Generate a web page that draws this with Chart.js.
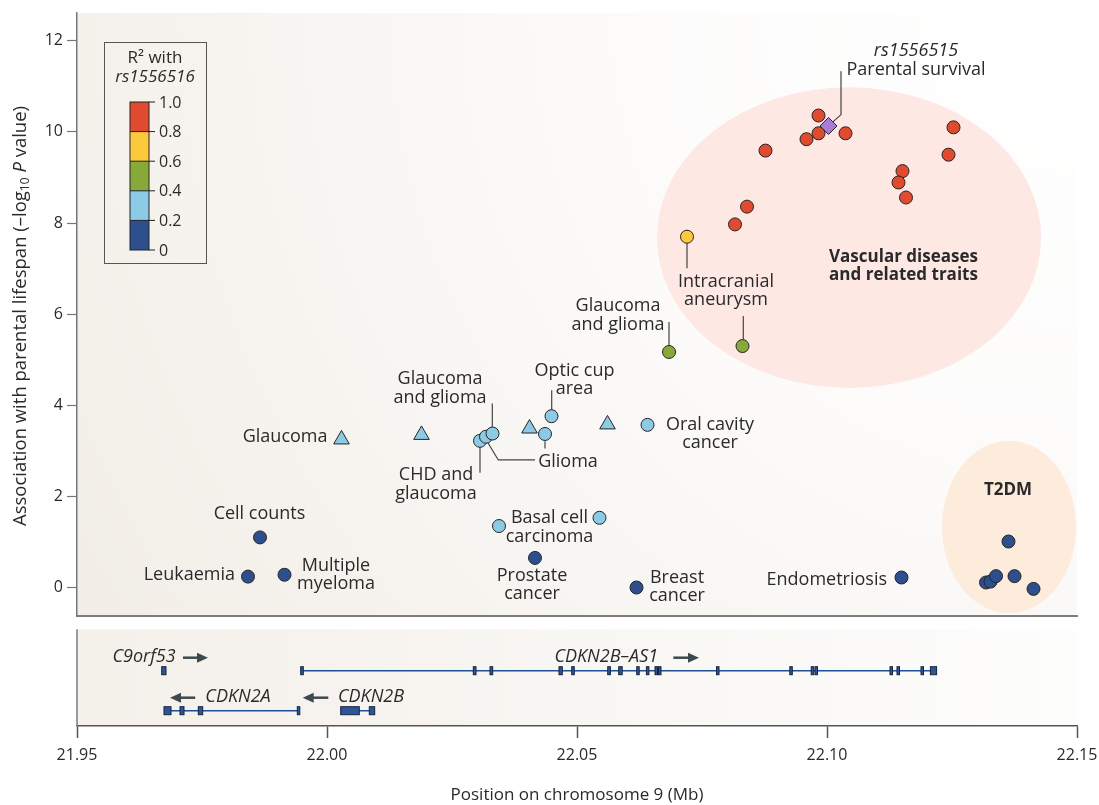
<!DOCTYPE html>
<html>
<head>
<meta charset="utf-8">
<script src="https://cdn.jsdelivr.net/npm/chart.js@4.4.0/dist/chart.umd.min.js"></script>
<style>
  html, body { margin: 0; padding: 0; background: #fff; }
  #wrap { width: 1099px; height: 805px; }
</style>
</head>
<body>
<div id="wrap"><canvas id="chart" width="1099" height="805"></canvas></div>
<script>
// ---- axis ticks ----
const xTicks = [21.95, 22.0, 22.05, 22.1, 22.15];
const yTicks = [0, 2, 4, 6, 8, 10, 12];

// ---- R2 colour key ----
const r2Ticks = ["1.0", "0.8", "0.6", "0.4", "0.2", "0"];
const r2Colors = ["#e04b30", "#fcc83c", "#86a93a", "#8dcae6", "#2d4f8e"];

// ---- SNP associations (position Mb, -log10 P) ----
const leadX = [22.1003];
const leadY = [10.13];
const redX = [22.0983, 22.0983, 22.0959, 22.1037, 22.0877, 22.1253, 22.1243, 22.1151, 22.1143, 22.1158, 22.0840, 22.0816];
const redY = [10.36, 9.97, 9.84, 9.97, 9.59, 10.10, 9.50, 9.14, 8.89, 8.56, 8.36, 7.97];
const yellowX = [22.0720];
const yellowY = [7.70];
const greenX = [22.0684, 22.0831];
const greenY = [5.17, 5.30];
const lightX = [22.0449, 22.0436, 22.0306, 22.0318, 22.0331, 22.0641, 22.0344, 22.0545];
const lightY = [3.76, 3.37, 3.22, 3.31, 3.38, 3.57, 1.35, 1.53];
const lightTriX = [22.0029, 22.0189, 22.0405, 22.0561];
const lightTriY = [3.25, 3.35, 3.49, 3.58];
const darkX = [21.9866, 21.9842, 21.9915, 22.0416, 22.0619, 22.1149, 22.1363, 22.1318, 22.1327, 22.1338, 22.1375, 22.1413];
const darkY = [1.10, 0.24, 0.28, 0.65, 0.00, 0.22, 1.01, 0.11, 0.13, 0.25, 0.25, -0.03];

// ---- genes (Mb) ----
const geneRows = { top: 5.53, bottom: 1.53 };
const as1Span = [21.99474, 22.12192];
const as1Exons = [[21.99474, 21.99526], [22.02926, 22.0298], [22.0326, 22.03314], [22.0464, 22.04706],
  [22.04894, 22.04946], [22.05614, 22.05668], [22.05834, 22.05904], [22.06194, 22.06236],
  [22.06388, 22.0643], [22.0656, 22.06594], [22.0663, 22.06664], [22.0779, 22.07826],
  [22.09256, 22.0929], [22.09684, 22.09726], [22.0976, 22.098], [22.1126, 22.11308],
  [22.114, 22.11446], [22.1188, 22.1193], [22.12068, 22.12192]];
const c9orf53Exons = [[21.96694, 21.9678]];
const cdkn2aSpan = [21.9674, 21.99434];
const cdkn2aExons = [[21.9674, 21.9688], [21.9706, 21.9714], [21.97426, 21.97514], [21.99406, 21.99446]];
const cdkn2bSpan = [22.00274, 22.00954];
const cdkn2bExons = [[22.00274, 22.00646], [22.00846, 22.00954]];

const geneLabels = [
  { text: "C9orf53", x: 21.9634, row: "top", arrow: [21.9712, 21.9762] },
  { text: "CDKN2B\u2013AS1", x: 22.05586, row: "top", arrow: [22.06926, 22.0744] },
  { text: "CDKN2A", x: 21.9822, row: "bottom", arrow: [21.97364, 21.9686] },
  { text: "CDKN2B", x: 22.0088, row: "bottom", arrow: [22.00026, 21.99514] },
];

// ---- annotations (data coordinates) ----
const notes = [
  { text: ["rs1556515"], x: 22.1178, y: 11.78, style: "italic" },
  { text: ["Parental survival"], x: 22.1178, y: 11.36 },
  { text: ["Intracranial", "aneurysm"], x: 22.0798, y: 6.71 },
  { text: ["Vascular diseases", "and related traits"], x: 22.1153, y: 7.26, style: "bold" },
  { text: ["Glaucoma", "and glioma"], x: 22.0582, y: 6.18 },
  { text: ["Optic cup", "area"], x: 22.0495, y: 4.76 },
  { text: ["Glaucoma", "and glioma"], x: 22.0226, y: 4.57 },
  { text: ["CHD and", "glaucoma"], x: 22.0218, y: 2.47 },
  { text: ["Glioma"], x: 22.0482, y: 2.76 },
  { text: ["Oral cavity", "cancer"], x: 22.0766, y: 3.57 },
  { text: ["Basal cell", "carcinoma"], x: 22.0445, y: 1.52 },
  { text: ["Prostate", "cancer"], x: 22.041, y: 0.26 },
  { text: ["Breast", "cancer"], x: 22.070, y: 0.22 },
  { text: ["Glaucoma"], x: 22.0001, y: 3.31, align: "right" },
  { text: ["Cell counts"], x: 21.9865, y: 1.61 },
  { text: ["Leukaemia"], x: 21.9816, y: 0.27, align: "right" },
  { text: ["Multiple", "myeloma"], x: 22.0018, y: 0.48 },
  { text: ["Endometriosis"], x: 22.112, y: 0.16, align: "right" },
  { text: ["T2DM"], x: 22.1362, y: 2.14, style: "bold" },
];

const leaders = [
  [[22.1007, 10.17], [22.1028, 10.38], [22.1028, 11.33]],
  [[22.0720, 7.56], [22.0720, 7.01]],
  [[22.08326, 5.96], [22.08326, 5.45]],
  [[22.0684, 5.83], [22.0684, 5.32]],
  [[22.04494, 4.33], [22.04494, 3.86]],
  [[22.03306, 4.04], [22.03306, 3.49]],
  [[22.0306, 3.09], [22.0306, 2.52]],
  [[22.0436, 3.21], [22.0436, 3.05]],
  [[22.03206, 3.20], [22.03426, 2.80], [22.0416, 2.80]],
];

const groups = [
  { cx: 22.1044, cy: 7.68, rx: 0.0384, ry: 3.30, fill: "#fde8e4" },
  { cx: 22.1364, cy: 1.33, rx: 0.0134, ry: 1.89, fill: "#fdebdc" },
];

const FONT = "'Open Sans', 'Noto Sans', sans-serif";
const INK = "#2a2a2a";
const pts = (xs, ys) => xs.map((x, i) => ({ x, y: ys[i] }));

function snpSet(xs, ys, color, style, radius) {
  return {
    data: pts(xs, ys),
    backgroundColor: color,
    borderColor: "#262626",
    borderWidth: 1,
    pointStyle: style || "circle",
    pointRadius: radius || 6.5,
    yAxisID: "y",
  };
}

function spanSet(span, row) {
  return {
    type: "line",
    data: [{ x: span[0], y: row }, { x: span[1], y: row }],
    borderColor: "#1f4f96",
    borderWidth: 1.5,
    pointRadius: 0,
    yAxisID: "yg",
  };
}

const decor = {
  id: "decor",
  beforeDraw(chart) {
    const { ctx, chartArea: a, scales } = chart;
    const y = scales.y, yg = scales.yg;
    ctx.save();
    // plot background
    let g = ctx.createRadialGradient(a.right, a.top, 40, a.right, a.top, 1150);
    g.addColorStop(0, "#ffffff");
    g.addColorStop(0.4, "#fcfbfa");
    g.addColorStop(1, "#f2eee7");
    ctx.fillStyle = g;
    ctx.fillRect(a.left, y.top, a.right - a.left, y.bottom - y.top);
    // gene panel background
    const pTop = yg.getPixelForValue(9.67);
    g = ctx.createLinearGradient(a.left, 0, a.right, 0);
    g.addColorStop(0, "#f4f0ea");
    g.addColorStop(1, "#fdfdfc");
    ctx.fillStyle = g;
    ctx.fillRect(a.left, pTop, a.right - a.left, yg.bottom - pTop);
    ctx.restore();
  },
  beforeDatasetsDraw(chart) {
    const { ctx, chartArea: a, scales } = chart;
    const x = scales.x, y = scales.y, yg = scales.yg;
    ctx.save();
    groups.forEach((e) => {
      const cx = x.getPixelForValue(e.cx), cy = y.getPixelForValue(e.cy);
      const rx = x.getPixelForValue(e.cx + e.rx) - cx;
      const ry = cy - y.getPixelForValue(e.cy + e.ry);
      ctx.fillStyle = e.fill;
      ctx.beginPath();
      ctx.ellipse(cx, cy, rx, ry, 0, 0, Math.PI * 2);
      ctx.fill();
    });
    // bottom frame of the main panel
    ctx.strokeStyle = "#7d7d7d";
    ctx.lineWidth = 2;
    ctx.beginPath();
    ctx.moveTo(a.left, y.bottom);
    ctx.lineTo(a.right + 1, y.bottom);
    ctx.stroke();
    // left frame of the gene panel
    ctx.lineWidth = 1.5;
    ctx.beginPath();
    ctx.moveTo(a.left, yg.getPixelForValue(9.67));
    ctx.lineTo(a.left, yg.bottom);
    ctx.stroke();
    // leader lines
    ctx.strokeStyle = "#444";
    ctx.lineWidth = 1.2;
    leaders.forEach((ln) => {
      ctx.beginPath();
      ln.forEach(([vx, vy], i) => {
        const px = x.getPixelForValue(vx), py = y.getPixelForValue(vy);
        i ? ctx.lineTo(px, py) : ctx.moveTo(px, py);
      });
      ctx.stroke();
    });
    ctx.restore();
  },
  afterDatasetsDraw(chart) {
    const { ctx, scales } = chart;
    const x = scales.x, y = scales.y, yg = scales.yg;
    ctx.save();
    // exons
    const exonH = 8;
    const drawExons = (list, row) => {
      const cy = yg.getPixelForValue(row);
      list.forEach(([s, e]) => {
        const x0 = x.getPixelForValue(s), x1 = x.getPixelForValue(e);
        ctx.fillStyle = "#2f5597";
        ctx.strokeStyle = "#16233f";
        ctx.lineWidth = 1;
        ctx.fillRect(x0, cy - exonH / 2, Math.max(x1 - x0, 2.5), exonH);
        ctx.strokeRect(x0, cy - exonH / 2, Math.max(x1 - x0, 2.5), exonH);
      });
    };
    drawExons(as1Exons, geneRows.top);
    drawExons(c9orf53Exons, geneRows.top);
    drawExons(cdkn2aExons, geneRows.bottom);
    drawExons(cdkn2bExons, geneRows.bottom);
    // gene names + strand arrows
    ctx.textBaseline = "middle";
    ctx.textAlign = "center";
    geneLabels.forEach((gl) => {
      const ly = yg.getPixelForValue(geneRows[gl.row] + 1.4);
      ctx.fillStyle = INK;
      ctx.font = "italic 18px " + FONT;
      ctx.fillText(gl.text, x.getPixelForValue(gl.x), ly);
      const a0 = x.getPixelForValue(gl.arrow[0]), a1 = x.getPixelForValue(gl.arrow[1]);
      const dir = Math.sign(a1 - a0);
      ctx.strokeStyle = "#3c4a50";
      ctx.fillStyle = "#3c4a50";
      ctx.lineWidth = 2.5;
      ctx.beginPath();
      ctx.moveTo(a0, ly + 1);
      ctx.lineTo(a1 - dir * 7, ly + 1);
      ctx.stroke();
      ctx.beginPath();
      ctx.moveTo(a1, ly + 1);
      ctx.lineTo(a1 - dir * 11, ly - 4);
      ctx.lineTo(a1 - dir * 11, ly + 6);
      ctx.closePath();
      ctx.fill();
    });
    // annotations
    notes.forEach((n) => {
      const style = n.style === "bold" ? "bold 17px " : n.style === "italic" ? "italic 18px " : "18px ";
      ctx.font = style + FONT;
      ctx.fillStyle = INK;
      ctx.textAlign = n.align || "center";
      const px = x.getPixelForValue(n.x), py = y.getPixelForValue(n.y);
      n.text.forEach((t, i) => ctx.fillText(t, px, py + i * 18.5));
    });
    ctx.restore();
  },
  afterDraw(chart) {
    const { ctx, scales } = chart;
    const y = scales.y;
    ctx.save();
    // y-axis title with subscript and italic P
    const parts = [
      { t: "Association with parental lifespan (\u2013log", f: "18.5px " + FONT, dy: 0 },
      { t: "10", f: "12px " + FONT, dy: 5 },
      { t: " ", f: "18.5px " + FONT, dy: 0 },
      { t: "P", f: "italic 18.5px " + FONT, dy: 0 },
      { t: " value)", f: "18.5px " + FONT, dy: 0 },
    ];
    let total = 0;
    parts.forEach((p) => { ctx.font = p.f; p.w = ctx.measureText(p.t).width; total += p.w; });
    ctx.translate(21, 316);
    ctx.rotate(-Math.PI / 2);
    ctx.fillStyle = INK;
    ctx.textBaseline = "middle";
    ctx.textAlign = "left";
    let cx = -total / 2;
    parts.forEach((p) => { ctx.font = p.f; ctx.fillText(p.t, cx, p.dy); cx += p.w; });
    ctx.restore();

    // R2 colour key
    ctx.save();
    const box = { l: 104, t: 42, r: 206, b: 263 };
    ctx.strokeStyle = "#555";
    ctx.lineWidth = 1;
    ctx.strokeRect(box.l + 0.5, box.t + 0.5, box.r - box.l, box.b - box.t);
    ctx.fillStyle = INK;
    ctx.textAlign = "center";
    ctx.textBaseline = "middle";
    ctx.font = "17px " + FONT;
    ctx.fillText("R\u00b2 with", 155, 58);
    ctx.font = "italic 17px " + FONT;
    ctx.fillText("rs1556516", 155, 77);
    const barL = 130, barW = 19, barT = 102, segH = 29.6;
    r2Colors.forEach((c, i) => {
      ctx.fillStyle = c;
      ctx.fillRect(barL, barT + i * segH, barW, segH);
    });
    ctx.strokeStyle = "#222";
    ctx.lineWidth = 1;
    for (let i = 1; i < r2Colors.length; i++) {
      ctx.beginPath();
      ctx.moveTo(barL, barT + i * segH);
      ctx.lineTo(barL + barW, barT + i * segH);
      ctx.stroke();
    }
    ctx.strokeRect(barL, barT, barW, segH * r2Colors.length);
    ctx.font = "16px " + FONT;
    ctx.textAlign = "left";
    ctx.fillStyle = INK;
    r2Ticks.forEach((t, i) => {
      const ty = barT + i * segH;
      ctx.beginPath();
      ctx.moveTo(barL + barW, ty);
      ctx.lineTo(barL + barW + 6, ty);
      ctx.stroke();
      ctx.fillText(t, barL + barW + 10, ty + 1);
    });
    ctx.restore();
  },
};

new Chart(document.getElementById("chart"), {
  type: "scatter",
  data: {
    datasets: [
      snpSet(leadX, leadY, "#a77dd8", "rectRot", 8.5),
      snpSet(redX, redY, r2Colors[0]),
      snpSet(yellowX, yellowY, r2Colors[1]),
      snpSet(greenX, greenY, r2Colors[2]),
      snpSet(lightX, lightY, r2Colors[3]),
      snpSet(lightTriX, lightTriY, r2Colors[3], "triangle", 9),
      snpSet(darkX, darkY, r2Colors[4]),
      spanSet(as1Span, geneRows.top),
      spanSet(cdkn2aSpan, geneRows.bottom),
      spanSet(cdkn2bSpan, geneRows.bottom),
    ],
  },
  options: {
    responsive: false,
    animation: false,
    layout: { padding: { top: 13, right: 22, left: 0, bottom: 0 } },
    plugins: { legend: { display: false }, tooltip: { enabled: false } },
    scales: {
      x: {
        type: "linear",
        position: "bottom",
        min: 21.95,
        max: 22.15,
        afterBuildTicks: (s) => { s.ticks = xTicks.map((v) => ({ value: v })); },
        afterFit: (s) => { s.height = 79; s.paddingLeft = 0; s.paddingRight = 0; },
        ticks: {
          callback: (v) => Number(v).toFixed(2),
          color: INK,
          font: { family: FONT, size: 16 },
          padding: 8,
          maxRotation: 0,
        },
        grid: { drawOnChartArea: false, tickLength: 12, color: "#555", tickWidth: 1.5 },
        border: { color: "#555", width: 1.5 },
        title: {
          display: true,
          text: "Position on chromosome 9 (Mb)",
          color: INK,
          font: { family: FONT, size: 17 },
          padding: { top: 0, bottom: 0 },
        },
      },
      yg: {
        type: "linear",
        position: "left",
        stack: "panels",
        stackWeight: 110,
        min: 0,
        max: 11,
        afterFit: (s) => { s.width = 77; s.paddingTop = 0; s.paddingBottom = 0; },
        ticks: { display: false },
        grid: { display: false },
        border: { display: false },
      },
      y: {
        type: "linear",
        position: "left",
        stack: "panels",
        stackWeight: 603,
        min: -0.625,
        max: 12.61,
        afterBuildTicks: (s) => { s.ticks = yTicks.map((v) => ({ value: v })); },
        afterFit: (s) => { s.width = 77; s.paddingTop = 0; s.paddingBottom = 0; },
        ticks: { color: INK, font: { family: FONT, size: 16 }, padding: 4 },
        grid: { drawOnChartArea: false, tickLength: 10, color: "#777", tickWidth: 1.2 },
        border: { color: "#777", width: 1.5 },
      },
    },
  },
  plugins: [decor],
});
</script>
</body>
</html>
